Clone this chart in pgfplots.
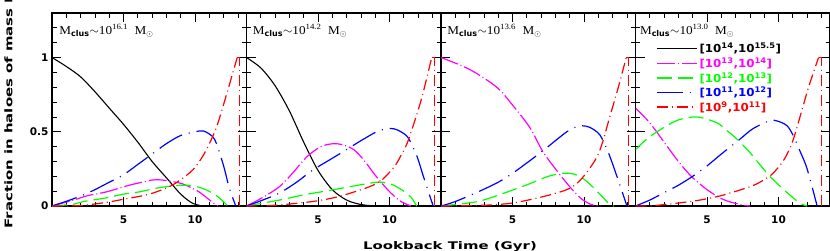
\documentclass[border=0pt]{standalone}
\usepackage{fontspec}
\setmainfont{Liberation Serif}
\newfontfamily\titfont{Liberation Serif}[FakeStretch=1.1]
\newfontfamily\labfont{DejaVu Sans}[FakeStretch=1.42]
\newfontfamily\tickfont{DejaVu Sans}
\newfontfamily\legfont{DejaVu Sans}[FakeStretch=1.08]
\usepackage{pgfplots}
\pgfplotsset{compat=1.18}
\definecolor{cmag}{RGB}{255,0,255}
\definecolor{cgrn}{RGB}{0,255,0}
\definecolor{cblu}{RGB}{0,0,255}
\definecolor{cred}{RGB}{255,0,0}
\pgfplotsset{
  panel/.style={
    width=194.5pt, height=193pt, scale only axis,
    anchor=south west,
    xmin=0, xmax=13.6, ymin=0, ymax=1.3,
    xtick={5,10}, minor xtick={1,2,3,4,6,7,8,9,11,12,13},
    ytick={0,0.5,1}, minor ytick={0.1,0.2,0.3,0.4,0.6,0.7,0.8,0.9,1.1,1.2},
    tick align=inside, tick pos=both,
    major tick length=9pt, minor tick length=4.5pt,
    axis line style={line width=1.3pt},
    every tick/.append style={black, line width=0.8pt},
    tick label style={font=\tickfont\bfseries\fontsize{10.5}{12}\selectfont},
    xticklabel style={yshift=-6pt},
    /pgf/number format/assume math mode=true,
    legend image code/.code={\draw[#1, line width=1.3pt] (0pt,0pt) -- (40pt,0pt);},
  },
  sblk/.style={black, line width=1.1pt, smooth},
  smag/.style={cmag, line width=1.2pt, smooth, dash pattern=on 18pt off 3pt on 1pt off 3pt},
  sgrn/.style={cgrn, line width=1.2pt, smooth, dash pattern=on 15pt off 6pt},
  sblu/.style={cblu, line width=1.2pt, smooth, dash pattern=on 26pt off 7pt on 1pt off 7pt},
  sred/.style={cred, line width=1.2pt, smooth, dash pattern=on 11pt off 4pt on 1pt off 4pt},
  sredv/.style={cred, line width=1.2pt, sharp plot, dash pattern=on 11pt off 4pt on 1pt off 4pt, forget plot},
}
\newcommand{\ptitle}[1]{M\textsubscript{\tickfont\bfseries clus}$\sim$10\textsuperscript{#1}\ \ M\textsubscript{$\odot$}}
\begin{document}
\begin{tikzpicture}
% ---------------- Panel 1
\begin{axis}[panel, at={(52pt,44pt)}]
\addplot[sblk] coordinates {(0,1)(1,0.94)(2,0.87)(3,0.77)(4,0.66)(5,0.55)(6,0.43)(7,0.30)(8,0.19)(9,0.08)(9.8,0.02)(10.5,0)};
\addplot[smag] coordinates {(0,0)(1.5,0.04)(2.5,0.07)(3.8,0.095)(5.4,0.14)(6.3,0.16)(7.0,0.175)(7.6,0.176)(8.2,0.168)(9.1,0.15)(9.8,0.12)(10.3,0.094)(11.2,0.027)(11.6,0)};
\addplot[sgrn] coordinates {(0,0)(1.5,0.012)(2.2,0.03)(3.8,0.055)(5,0.08)(6.1,0.095)(7.3,0.12)(8,0.13)(9,0.14)(9.5,0.14)(10.5,0.12)(11.5,0.07)(12.3,0)};
\addplot[sblu] coordinates {(0,0)(1.25,0.04)(2.2,0.075)(3,0.11)(4,0.16)(5,0.21)(6,0.28)(7,0.35)(8,0.42)(9,0.475)(10,0.5)(10.6,0.505)(11.2,0.47)(11.5,0.42)(12.0,0.27)(12.4,0.12)(12.85,0)};
\addplot[sred] coordinates {(0,0)(2,0.003)(4,0.027)(4.7,0.04)(6.8,0.08)(8.4,0.14)(9.7,0.23)(10.3,0.3)(10.8,0.38)(11.5,0.53)(12.2,0.75)(12.95,1)};
\addplot[sredv] coordinates {(12.95,1)(13.12,1)(13.12,0)};
\node[anchor=base west, font=\titfont\fontsize{12}{14}\selectfont] at (rel axis cs:0.02,0.89) {\ptitle{16.1}};
\end{axis}
% ---------------- Panel 2
\begin{axis}[panel, at={(246.5pt,44pt)}, yticklabels={}]
\addplot[sblk] coordinates {(0,1)(1,0.93)(2,0.81)(3,0.64)(4,0.43)(5,0.24)(6,0.11)(7,0.04)(8,0.01)(9,0)};
\addplot[smag] coordinates {(0,0)(1,0.05)(2.3,0.13)(3.3,0.23)(4.2,0.33)(5.2,0.40)(6.1,0.42)(6.8,0.41)(7.5,0.38)(8.2,0.31)(8.9,0.22)(9.5,0.15)(10.1,0.087)(10.8,0.03)(11.5,0)};
\addplot[sgrn] coordinates {(0,0)(2.3,0.04)(4,0.075)(5.8,0.105)(7.5,0.135)(9.1,0.16)(9.8,0.155)(10.3,0.14)(11,0.1)(11.5,0.06)(11.9,0)};
\addplot[sblu] coordinates {(0,0)(1,0.035)(2.3,0.087)(3.5,0.16)(4.6,0.24)(5.8,0.31)(7,0.38)(8,0.44)(9.1,0.5)(9.8,0.52)(10.3,0.52)(10.8,0.50)(11.3,0.46)(11.9,0.34)(12.4,0.19)(13.05,0)};
\addplot[sred] coordinates {(0,0)(2,0.005)(4.6,0.03)(6.3,0.06)(7.7,0.1)(8.6,0.13)(9.4,0.17)(10.3,0.26)(10.8,0.34)(11.3,0.44)(12.2,0.71)(12.95,1)};
\addplot[sredv] coordinates {(12.95,1)(13.15,1)(13.15,0)};
\node[anchor=base west, font=\titfont\fontsize{12}{14}\selectfont] at (rel axis cs:0.015,0.89) {\ptitle{14.2}};
\end{axis}
% ---------------- Panel 3
\begin{axis}[panel, at={(441pt,44pt)}, yticklabels={}]
\addplot[sblk] coordinates {(0,0)(13.5,0)};
\addplot[smag] coordinates {(0,1)(2,0.92)(3.9,0.8)(5,0.68)(6.2,0.53)(7.1,0.37)(8,0.25)(9,0.13)(9.8,0.05)(10.5,0.01)(11.2,0)};
\addplot[sgrn] coordinates {(0,0)(1,0.01)(2.7,0.033)(4.5,0.09)(6.2,0.15)(7.5,0.2)(8.5,0.22)(9.3,0.215)(10,0.18)(10.6,0.13)(11.2,0.07)(11.8,0.01)(12.1,0)};
\addplot[sblu] coordinates {(0,0)(1,0.03)(2.7,0.1)(4,0.16)(5,0.22)(6,0.29)(7.1,0.37)(8,0.44)(8.8,0.5)(9.5,0.535)(9.9,0.54)(10.4,0.53)(11.1,0.48)(11.7,0.36)(12.3,0.2)(13.0,0)};
\addplot[sred] coordinates {(0,0)(3,0.005)(5,0.02)(7,0.06)(8.5,0.1)(9.2,0.13)(9.7,0.17)(10.3,0.24)(10.9,0.33)(11.3,0.43)(11.8,0.6)(12.4,0.8)(12.95,1)};
\addplot[sredv] coordinates {(12.95,1)(13.12,1)(13.12,0)};
\node[anchor=base west, font=\titfont\fontsize{12}{14}\selectfont] at (rel axis cs:0.015,0.89) {\ptitle{13.6}};
\end{axis}
% ---------------- Panel 4
\begin{axis}[panel, at={(635.5pt,44pt)}, yticklabels={},
  legend style={at={(rel axis cs:0.09,0.865)}, anchor=north west, draw=none, fill=none,
    font=\legfont\bfseries\fontsize{11}{12}\selectfont, row sep=-0.6pt,
    /tikz/every even column/.append style={column sep=2pt}},
  legend cell align=left]
\addplot[sblk] coordinates {(0,0)(13.5,0)};
\addlegendentry{[10\textsuperscript{14},10\textsuperscript{15.5}]}
\addplot[smag] coordinates {(0,0.66)(1,0.56)(2,0.43)(3,0.3)(3.9,0.2)(5,0.11)(6,0.05)(6.7,0.025)(7.6,0.005)(8,0)};
\addlegendentry{\textcolor{cmag}{[10\textsuperscript{13},10\textsuperscript{14}]}}
\addplot[sgrn] coordinates {(0,0.38)(0.9,0.46)(2,0.53)(3,0.58)(4.3,0.6)(5.7,0.56)(6.5,0.5)(7.1,0.45)(8,0.36)(9.3,0.21)(10.6,0.09)(11.5,0.02)(12,0)};
\addlegendentry{\textcolor{cgrn}{[10\textsuperscript{12},10\textsuperscript{13}]}}
\addplot[sblu] coordinates {(0,0)(1,0.04)(2,0.09)(3,0.14)(4,0.2)(5,0.27)(6,0.35)(7.3,0.45)(8.2,0.52)(9.4,0.575)(10,0.57)(10.6,0.54)(11,0.48)(11.5,0.37)(12,0.25)(12.7,0)};
\addlegendentry{\textcolor{cblu}{[10\textsuperscript{11},10\textsuperscript{12}]}}
\addplot[sred] coordinates {(0,0)(1.3,0.003)(3,0.02)(4.5,0.04)(6,0.07)(7.7,0.12)(8.5,0.15)(9.5,0.21)(10.3,0.3)(10.8,0.39)(11.2,0.5)(12.1,0.8)(12.8,1)};
\addlegendentry{\textcolor{cred}{[10\textsuperscript{9},10\textsuperscript{11}]}}
\addplot[sredv] coordinates {(12.8,1)(13.0,1)(13.0,0)};
\node[anchor=base west, font=\titfont\fontsize{12}{14}\selectfont] at (rel axis cs:0.005,0.89) {\ptitle{13.0}};
\end{axis}
\node[anchor=base, font=\labfont\bfseries\fontsize{10.5}{12}\selectfont] at (450pt,0.7pt) {Lookback Time (Gyr)};
\node[rotate=90, anchor=base west, font=\labfont\bfseries\fontsize{10.5}{12}\selectfont] at (12.3pt,18pt) {Fraction in haloes of mass M\textsubscript{halo}};
\pgfresetboundingbox
\useasboundingbox (0pt,0pt) rectangle (830pt,250pt);
\end{tikzpicture}
\end{document}
